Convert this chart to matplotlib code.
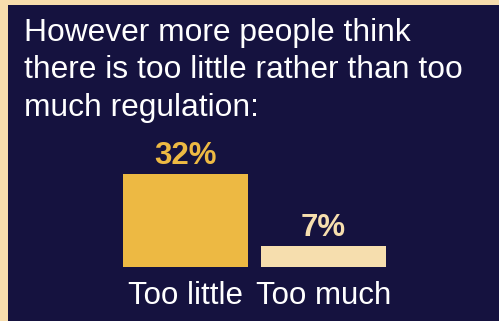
import matplotlib
matplotlib.use("Agg")
import matplotlib.pyplot as plt
from matplotlib.patches import Rectangle

categories = ["Too little", "Too much"]
values = [32, 7]
value_labels = ["32%", "7%"]
title_lines = ["However more people think",
               "there is too little rather than too",
               "much regulation:"]

BG = "#15123F"
BORDER = "#F7DDAD"
GOLD = "#EDB943"
BEIGE = "#F6DEAE"
W, H = 499, 321

plt.rcParams['font.family'] = ['Liberation Sans', 'DejaVu Sans']
fig = plt.figure(figsize=(W / 100, H / 100), dpi=100)
fig.patch.set_facecolor(BORDER)
fig.patches.append(Rectangle((8 / W, 0), 1 - 8 / W, (H - 5) / H,
                             transform=fig.transFigure, facecolor=BG,
                             edgecolor='none', zorder=-5))

for i, line in enumerate(title_lines):
    fig.text(24 / W, 1 - (41 + 37.5 * i) / H, line, color='white',
             fontsize=22.9, va='baseline', ha='left')

ax = fig.add_axes([110 / W, 54.3 / H, 290 / W, 126.7 / H])
ax.set_zorder(5)
ax.set_facecolor('none')
ax.set_xlim(-75.5 / 138, (290 - 75.5) / 138)
ax.set_ylim(0, 126.7 / 2.9)
colors = [GOLD, BEIGE]
ax.bar(range(len(values)), values, width=125 / 138, color=colors)
for i, (v, lab) in enumerate(zip(values, value_labels)):
    ax.annotate(lab, (i, v), xytext=(0, 10), textcoords='offset pixels',
                ha='center', va='baseline', fontsize=22.5, fontweight='bold',
                color=colors[i], annotation_clip=False)
    ax.annotate(categories[i], (i, 0), xytext=(0, -37.5), textcoords='offset pixels',
                ha='center', va='baseline', fontsize=22.5, color='white',
                annotation_clip=False)
ax.axis('off')

fig.savefig("out.png", dpi=100, facecolor=fig.get_facecolor())
